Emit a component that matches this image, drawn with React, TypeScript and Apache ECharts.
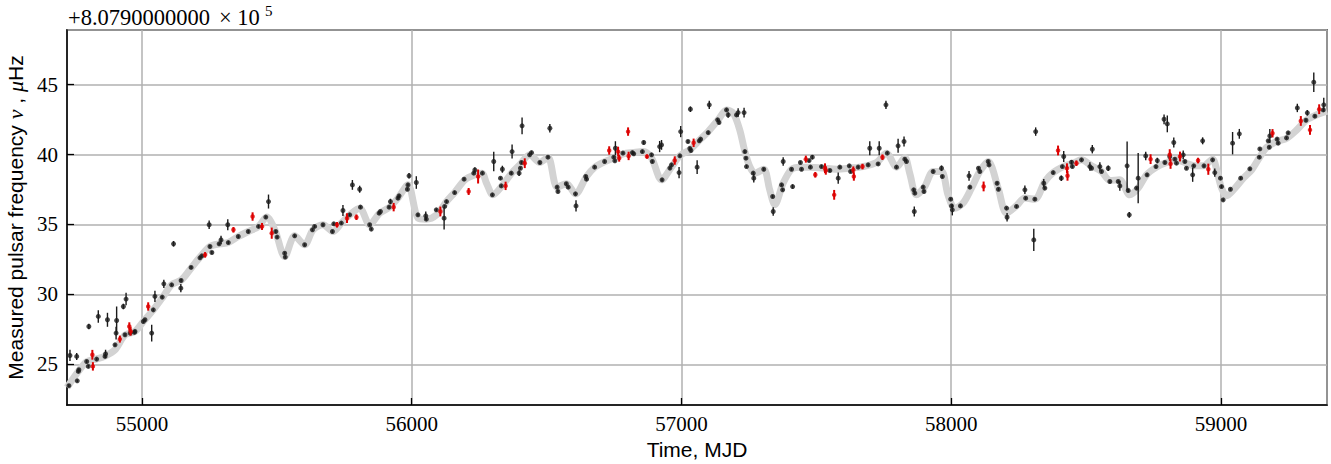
import React, { useEffect, useRef } from "react";
import * as echarts from "echarts";

const X_MIN = 54722;
const X_MAX = 59393;
const Y_MIN = 22.1;
const Y_MAX = 48.9;

const OFFSET_MANTISSA = "+8.0790000000";
const OFFSET_TIMES = "× 10";
const OFFSET_EXP = "5";
const X_TITLE = "Time, MJD";

// smooth timing model (grey band)
const modelMjd = [
  54722, 54764, 54795, 54832, 54863, 54900, 54937, 54974, 55005, 55042, 55079, 55110, 55147, 55184,
  55215, 55252, 55289, 55320, 55357, 55394, 55432, 55462, 55493, 55529, 55566, 55603, 55634, 55671,
  55708, 55739, 55770, 55807, 55844, 55881, 55918, 55949, 55986, 56023, 56054, 56092, 56129, 56159,
  56197, 56234, 56260, 56277, 56301, 56338, 56370, 56400, 56438, 56475, 56505, 56539, 56574, 56607,
  56648, 56679, 56716, 56747, 56784, 56821, 56858, 56889, 56926, 56963, 56994, 57031, 57068, 57099,
  57136, 57167, 57192, 57216, 57235, 57253, 57272, 57305, 57327, 57346, 57377, 57408, 57439, 57476,
  57525, 57575, 57624, 57673, 57723, 57760, 57797, 57828, 57846, 57871, 57902, 57933, 57964, 57988,
  58013, 58044, 58075, 58106, 58137, 58174, 58205, 58242, 58273, 58310, 58347, 58378, 58415, 58452,
  58483, 58520, 58557, 58588, 58624, 58662, 58693, 58724, 58761, 58798, 58835, 58872, 58903, 58934,
  58969, 58984, 59002, 59021, 59052, 59083, 59114, 59145, 59170, 59207, 59244, 59281, 59318, 59355,
  59393,
];
const modelFreq = [
  23.35, 24.5, 25.2, 25.4, 25.6, 26.05, 27.1, 27.36, 28.07, 28.9, 29.86, 30.7, 31.05, 31.93,
  32.67, 33.43, 33.62, 33.71, 34.14, 34.5, 34.86, 35.53, 34.6, 32.71, 34.19, 33.55, 34.62, 34.98,
  34.5, 35.1, 35.69, 36.17, 34.98, 35.81, 36.24, 36.89, 37.84, 35.46, 35.38, 35.69, 36.64, 37.29,
  38.19, 38.55, 38.67, 37.96, 37.12, 37.84, 38.67, 39.26, 39.98, 39.43, 39.81, 37.67, 37.91, 37.19,
  38.43, 39.1, 39.5, 39.74, 40.05, 40.14, 40.21, 39.74, 38.19, 39.1, 39.91, 40.34, 41.05, 41.64,
  42.48, 43.19, 42.96, 41.76, 40.21, 39.14, 38.67, 38.95, 37.48, 36.41, 37.96, 38.95, 39.1, 39.1,
  39.03, 38.95, 39.03, 39.14, 39.43, 40.1, 39.1, 39.78, 38.67, 37.12, 37.72, 38.79, 38.79, 37.12,
  36.17, 36.53, 37.6, 38.79, 39.5, 37.6, 35.81, 36.34, 36.89, 36.81, 38.07, 38.71, 39.14, 39.38,
  39.62, 39.19, 38.79, 38.15, 38.19, 37.12, 37.6, 38.55, 39.1, 39.43, 39.62, 39.38, 39.19, 39.19,
  39.67, 38.91, 37.6, 37.05, 37.6, 38.31, 38.91, 39.86, 40.53, 40.93, 41.17, 41.76, 42.48, 42.84,
  43.1,
];

// measured frequencies (black)
const blackMjd = [
  54729, 54733, 54758, 54760, 54764, 54766, 54795, 54801, 54803, 54832, 54838, 54863, 54865, 54872,
  54900, 54904, 54906, 54931, 54937, 54941, 54956, 54972, 54974, 55005, 55011, 55036, 55042, 55048,
  55075, 55081, 55110, 55117, 55144, 55145, 55182, 55215, 55222, 55249, 55252, 55259, 55286, 55293,
  55318, 55320, 55357, 55394, 55432, 55459, 55469, 55496, 55501, 55529, 55531, 55566, 55603, 55632,
  55640, 55671, 55706, 55711, 55739, 55745, 55770, 55780, 55807, 55810, 55844, 55850, 55879, 55884,
  55916, 55921, 55949, 55953, 55984, 55986, 55990, 56017, 56023, 56052, 56054, 56091, 56120, 56122,
  56129, 56159, 56194, 56230, 56234, 56262, 56299, 56304, 56329, 56332, 56336, 56369, 56372, 56398,
  56403, 56407, 56409, 56437, 56444, 56475, 56505, 56512, 56539, 56542, 56573, 56580, 56607, 56609,
  56645, 56648, 56678, 56715, 56749, 56753, 56755, 56783, 56818, 56823, 56855, 56860, 56889, 56892,
  56919, 56926, 56928, 56957, 56963, 56991, 56994, 56997, 57024, 57031, 57033, 57035, 57058, 57066,
  57071, 57099, 57103, 57134, 57139, 57167, 57173, 57204, 57210, 57232, 57235, 57239, 57241, 57266,
  57268, 57305, 57338, 57340, 57371, 57375, 57377, 57408, 57412, 57441, 57445, 57473, 57478, 57485,
  57519, 57550, 57581, 57587, 57622, 57627, 57655, 57692, 57698, 57729, 57733, 57758, 57763, 57797,
  57803, 57825, 57828, 57834, 57861, 57863, 57865, 57896, 57899, 57933, 57964, 57967, 57998, 58001,
  58004, 58034, 58066, 58069, 58101, 58106, 58137, 58140, 58170, 58175, 58205, 58207, 58242, 58273,
  58276, 58306, 58310, 58313, 58343, 58347, 58378, 58408, 58412, 58417, 58446, 58449, 58483, 58514,
  58520, 58523, 58551, 58557, 58582, 58588, 58619, 58625, 58652, 58656, 58660, 58687, 58693, 58721,
  58726, 58759, 58764, 58789, 58792, 58801, 58810, 58825, 58829, 58835, 58860, 58866, 58872, 58895,
  58899, 58932, 58937, 58969, 58977, 58998, 59002, 59008, 59035, 59043, 59068, 59073, 59107, 59142,
  59144, 59175, 59179, 59181, 59208, 59212, 59243, 59249, 59283, 59315, 59320, 59344, 59348, 59379,
  59381,
];
const blackFreq = [
  23.48, 25.64, 25.57, 23.83, 24.5, 24.62, 25.21, 24.86, 27.71, 25.38, 28.43, 25.57, 25.75, 28.19,
  26.4, 27.24, 28.14, 29.14, 27.12, 29.67, 27.24, 27.29, 27.36, 28.07, 28.19, 27.24, 28.9, 29.86,
  29.81, 30.76, 30.69, 33.62, 30.45, 31.0, 31.93, 32.62, 32.76, 34.98, 33.43, 33.0, 33.62, 33.9,
  34.98, 33.71, 34.14, 34.5, 34.86, 35.53, 36.64, 34.5, 34.1, 32.95, 32.67, 34.19, 33.55, 34.62,
  34.86, 34.98, 34.5, 35.05, 35.1, 36.0, 35.69, 37.83, 37.52, 36.24, 34.98, 34.67, 35.81, 35.93,
  36.24, 36.64, 36.88, 37.05, 37.52, 37.83, 38.48, 38.0, 35.69, 35.62, 35.38, 36.05, 35.45, 36.29,
  36.64, 37.28, 38.24, 38.67, 38.9, 38.67, 37.12, 39.5, 38.31, 37.76, 38.95, 38.67, 40.21, 38.67,
  39.02, 39.43, 42.05, 39.98, 40.14, 39.43, 39.81, 41.88, 37.67, 37.36, 37.91, 37.67, 37.19, 36.33,
  38.43, 38.24, 39.1, 39.5, 39.81, 39.55, 40.45, 40.1, 40.14, 40.05, 40.21, 40.86, 39.98, 39.5,
  40.57, 40.69, 38.19, 39.03, 39.26, 38.71, 39.91, 41.64, 40.93, 40.43, 43.24, 40.29, 39.1, 40.98,
  41.1, 41.57, 43.55, 42.48, 42.29, 43.19, 42.83, 42.83, 43.0, 43.0, 40.21, 39.74, 39.14, 38.67,
  38.31, 38.95, 37.0, 35.93, 37.83, 37.48, 39.5, 38.95, 37.71, 39.43, 38.95, 39.57, 39.1, 39.81,
  39.14, 38.86, 38.31, 39.1, 39.19, 38.79, 39.1, 39.26, 40.45, 39.33, 40.45, 43.55, 40.1, 39.1,
  40.62, 40.93, 39.67, 39.5, 37.48, 35.93, 37.24, 37.67, 37.36, 38.79, 39.02, 38.43, 36.81, 36.33,
  36.05, 36.33, 38.48, 37.67, 39.02, 38.79, 39.5, 39.26, 37.95, 37.52, 36.17, 35.52, 36.29, 37.48,
  36.88, 33.9, 36.81, 41.64, 37.95, 37.6, 38.71, 38.31, 39.14, 39.86, 39.45, 39.14, 39.62, 39.14,
  39.02, 40.38, 39.14, 38.79, 39.02, 38.07, 38.07, 37.76, 39.19, 37.43, 35.69, 37.6, 38.31, 39.9,
  38.55, 39.14, 39.57, 42.52, 39.43, 42.19, 39.86, 40.86, 39.67, 39.38, 39.98, 39.5, 39.02, 38.55,
  39.19, 40.98, 39.19, 39.62, 38.71, 38.31, 37.71, 36.76, 37.52, 40.81, 41.48, 38.31, 38.98, 39.81,
  40.4, 40.98, 40.52, 41.33, 41.1, 40.81, 41.19, 41.55, 43.33, 42.45, 42.98, 45.17, 42.74, 43.19,
  43.55,
];
const blackErr = [
  0.1, 0.4, 0.25, 0.1, 0.1, 0.1, 0.1, 0.1, 0.2, 0.1, 0.45, 0.1, 0.3, 0.5,
  0.1, 0.45, 1.0, 0.2, 0.1, 0.45, 0.1, 0.1, 0.1, 0.1, 0.1, 0.6, 0.1, 0.4,
  0.1, 0.3, 0.1, 0.2, 0.3, 0.1, 0.1, 0.1, 0.1, 0.3, 0.1, 0.1, 0.1, 0.3,
  0.4, 0.1, 0.1, 0.1, 0.1, 0.1, 0.5, 0.1, 0.1, 0.1, 0.1, 0.1, 0.1, 0.1,
  0.1, 0.1, 0.1, 0.1, 0.1, 0.4, 0.1, 0.35, 0.25, 0.1, 0.1, 0.1, 0.1, 0.1,
  0.1, 0.2, 0.1, 0.1, 0.1, 0.1, 0.2, 0.45, 0.1, 0.3, 0.1, 0.1, 0.8, 0.1,
  0.1, 0.1, 0.1, 0.1, 0.2, 0.1, 0.1, 0.7, 0.1, 0.1, 0.25, 0.1, 0.5, 0.2,
  0.1, 0.1, 0.6, 0.1, 0.1, 0.1, 0.1, 0.3, 0.1, 0.1, 0.1, 0.1, 0.1, 0.4,
  0.1, 0.1, 0.1, 0.1, 0.1, 0.1, 0.5, 0.1, 0.1, 0.1, 0.1, 0.15, 0.1, 0.1,
  0.4, 0.35, 0.1, 0.1, 0.1, 0.4, 0.1, 0.4, 0.1, 0.1, 0.2, 0.1, 0.5, 0.1,
  0.1, 0.1, 0.3, 0.1, 0.1, 0.1, 0.2, 0.1, 0.3, 0.35, 0.1, 0.1, 0.1, 0.1,
  0.3, 0.1, 0.1, 0.3, 0.1, 0.1, 0.3, 0.1, 0.15, 0.1, 0.1, 0.1, 0.1, 0.15,
  0.1, 0.1, 0.4, 0.1, 0.1, 0.1, 0.1, 0.1, 0.5, 0.1, 0.5, 0.3, 0.1, 0.1,
  0.5, 0.35, 0.1, 0.1, 0.1, 0.35, 0.1, 0.1, 0.1, 0.1, 0.2, 0.1, 0.1, 0.1,
  0.4, 0.1, 0.35, 0.1, 0.1, 0.1, 0.1, 0.1, 0.1, 0.1, 0.1, 0.3, 0.1, 0.3,
  0.1, 0.8, 0.1, 0.3, 0.3, 0.1, 0.1, 0.2, 0.1, 0.4, 0.15, 0.1, 0.1, 0.3,
  0.1, 0.3, 0.3, 0.1, 0.2, 0.1, 0.1, 0.35, 1.75, 0.1, 0.2, 0.1, 1.8, 0.3,
  0.1, 0.1, 0.2, 0.35, 0.1, 0.6, 0.3, 0.35, 0.1, 0.1, 0.3, 0.1, 0.1, 0.5,
  0.1, 0.25, 0.1, 0.1, 0.3, 0.1, 0.1, 0.1, 0.1, 0.8, 0.35, 0.1, 0.1, 0.1,
  0.1, 0.1, 0.1, 0.5, 0.1, 0.1, 0.1, 0.1, 0.3, 0.1, 0.2, 0.7, 0.1, 0.1,
  0.5,
];

// measured frequencies (red)
const redMjd = [
  54816, 54818, 54918, 54953, 54958, 55023, 55234, 55339, 55410, 55445, 55481, 55723, 55760, 55795,
  55933, 56106, 56211, 56246, 56348, 56419, 56732, 56765, 56769, 56802, 56804, 56872, 56975, 57045,
  57461, 57496, 57532, 57535, 57566, 57637, 57639, 57671, 57745, 58120, 58396, 58429, 58431, 58464,
  58739, 58810, 58813, 58848, 58915, 58953, 59191, 59296, 59330, 59364,
];
const redFreq = [
  25.69, 24.86, 26.81, 27.71, 27.36, 29.14, 32.83, 34.62, 35.57, 34.86, 34.38, 34.98, 35.45, 35.52,
  36.24, 35.93, 37.36, 38.43, 37.76, 39.38, 40.29, 40.21, 39.74, 41.64, 39.9, 39.86, 39.57, 40.84,
  39.67, 38.55, 39.02, 38.86, 37.12, 38.9, 38.43, 39.14, 39.81, 37.72, 40.29, 39.02, 38.48, 39.38,
  39.67, 39.98, 39.33, 39.86, 39.57, 38.95, 41.52, 42.4, 41.76, 43.24,
];
const redErr = [
  0.35, 0.3, 0.25, 0.3, 0.3, 0.3, 0.2, 0.2, 0.3, 0.25, 0.4, 0.2, 0.35, 0.2,
  0.3, 0.35, 0.25, 0.5, 0.3, 0.35, 0.3, 0.35, 0.25, 0.3, 0.3, 0.15, 0.3, 0.3,
  0.25, 0.2, 0.35, 0.3, 0.35, 0.25, 0.3, 0.2, 0.2, 0.35, 0.35, 0.35, 0.35, 0.2,
  0.35, 0.4, 0.35, 0.35, 0.2, 0.4, 0.3, 0.35, 0.35, 0.35,
];

const SERIF = "Liberation Serif";
const SANS = "Liberation Sans";

function errorBars(name: string, mjd: number[], freq: number[], err: number[], color: string, width: number, z: number) {
  return {
    type: "custom",
    name,
    z,
    silent: true,
    clip: true,
    encode: { x: 0, y: [1, 2] },
    data: mjd.map((m, i) => [m, freq[i] - err[i], freq[i] + err[i]]),
    renderItem: (_params: any, api: any) => {
      const lo = api.coord([api.value(0), api.value(1)]);
      const hi = api.coord([api.value(0), api.value(2)]);
      return {
        type: "line",
        shape: { x1: lo[0], y1: lo[1], x2: hi[0], y2: hi[1] },
        style: { stroke: color, lineWidth: width },
      };
    },
  };
}

export default function App() {
  const ref = useRef<HTMLDivElement>(null);
  useEffect(() => {
    if (!ref.current) return;
    const chart = echarts.init(ref.current, undefined, { renderer: "svg" });
    chart.setOption({
      animation: false,
      backgroundColor: "#ffffff",
      grid: {
        left: 67,
        right: 4,
        top: 30,
        bottom: 59,
        show: true,
        borderColor: "#000",
        borderWidth: 1.5,
        backgroundColor: "transparent",
        containLabel: false,
        outerBoundsMode: "none",
      },
      xAxis: {
        type: "value",
        min: X_MIN,
        max: X_MAX,
        splitNumber: 5,
        name: X_TITLE,
        nameLocation: "middle",
        nameGap: 32,
        nameTextStyle: { fontFamily: SANS, fontSize: 21, color: "#000" },
        axisLine: { show: true, onZero: false, lineStyle: { color: "#000", width: 1.5 } },
        axisTick: { show: true, inside: true, length: 7, lineStyle: { color: "#000", width: 1.3 } },
        axisLabel: {
          showMinLabel: false,
          showMaxLabel: false,
          fontFamily: SERIF,
          fontSize: 21,
          color: "#000",
          margin: 8,
          formatter: (v: number) => String(v),
        },
        splitLine: { show: true, lineStyle: { color: "#b0b0b0", width: 1.5 } },
      },
      yAxis: {
        type: "value",
        min: Y_MIN,
        max: Y_MAX,
        splitNumber: 5,
        name: "{a|Measured pulsar frequency }{b|ν}{a| , }{b|μ}{a|Hz}",
        nameLocation: "middle",
        nameGap: 38,
        nameTextStyle: {
          color: "#000",
          rich: {
            a: { fontFamily: SANS, fontSize: 21, color: "#000" },
            b: { fontFamily: SERIF, fontStyle: "italic", fontSize: 22, color: "#000" },
          },
        },
        axisLine: { show: true, onZero: false, lineStyle: { color: "#000", width: 1.5 } },
        axisTick: { show: true, inside: true, length: 7, lineStyle: { color: "#000", width: 1.3 } },
        axisLabel: {
          showMinLabel: false,
          showMaxLabel: false,
          fontFamily: SERIF,
          fontSize: 21,
          color: "#000",
          margin: 9,
          formatter: (v: number) => String(v),
        },
        splitLine: { show: true, lineStyle: { color: "#b0b0b0", width: 1.5 } },
      },
      graphic: [
        {
          type: "text",
          left: 68,
          top: 6,
          style: { text: OFFSET_MANTISSA, fontFamily: SERIF, fontSize: 22.5, fill: "#000" },
        },
        {
          type: "text",
          left: 219,
          top: 6,
          style: { text: OFFSET_TIMES, fontFamily: SERIF, fontSize: 22.5, fill: "#000" },
        },
        {
          type: "text",
          left: 265,
          top: 3,
          style: { text: OFFSET_EXP, fontFamily: SERIF, fontSize: 15, fill: "#000" },
        },
      ],
      series: [
        {
          type: "line",
          name: "model",
          data: modelMjd.map((m, i) => [m, modelFreq[i]]),
          smooth: 0.3,
          showSymbol: false,
          symbol: "none",
          silent: true,
          z: 1,
          lineStyle: { color: "#d3d3d3", width: 7 },
        },
        errorBars("black-err", blackMjd, blackFreq, blackErr, "#1a1a1a", 1.4, 2),
        {
          type: "scatter",
          name: "black",
          z: 3,
          symbolSize: 5,
          data: blackMjd.map((m, i) => [m, blackFreq[i]]),
          itemStyle: { color: "#1a1a1a" },
        },
        errorBars("red-err", redMjd, redFreq, redErr, "#dd0000", 2, 4),
        {
          type: "scatter",
          name: "red",
          z: 5,
          symbolSize: 4.5,
          data: redMjd.map((m, i) => [m, redFreq[i]]),
          itemStyle: { color: "#dd0000" },
        },
      ],
    });
    return () => chart.dispose();
  }, []);
  return (
    <div
      ref={ref}
      style={{ position: "fixed", left: 0, top: 0, width: 1331, height: 464, background: "#fff" }}
    />
  );
}
